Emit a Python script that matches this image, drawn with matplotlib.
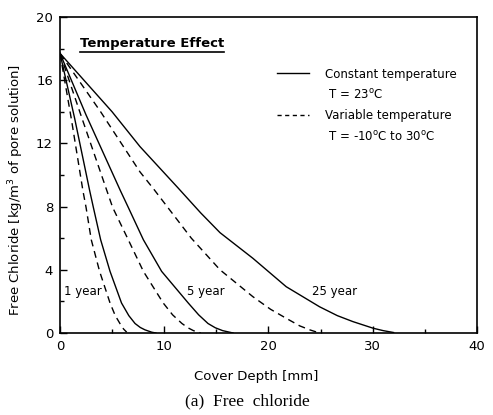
import matplotlib
matplotlib.use("Agg")
from matplotlib import pyplot as plt
from matplotlib.lines import Line2D
from matplotlib.ticker import MultipleLocator

# (cover depth mm, free chloride kg/m3)
depth_1yr_var = [0, 1.1, 2.2, 2.5, 3.0, 3.8, 4.8, 5.3, 5.75, 6.1, 6.4]
cl_1yr_var = [17.7, 13.5, 9.0, 7.95, 5.9, 3.9, 1.9, 1.1, 0.6, 0.25, 0.05]
depth_1yr_const = [0, 1.4, 2.85, 3.2, 3.9, 4.8, 5.9, 6.6, 7.2, 7.7, 8.15, 8.8, 9.2]
cl_1yr_const = [17.7, 13.6, 9.0, 7.95, 5.9, 3.9, 1.9, 1.1, 0.6, 0.35, 0.2, 0.05, 0.0]
depth_5yr_var = [0, 2.05, 4.5, 5.05, 6.55, 8.0, 9.9, 10.8, 11.7, 12.3, 12.8, 13.5]
cl_5yr_var = [17.7, 13.7, 9.0, 7.95, 5.9, 3.9, 1.9, 1.15, 0.6, 0.32, 0.15, 0.0]
depth_5yr_const = [0, 2.5, 5.8, 6.55, 8.0, 9.75, 12.3, 13.3, 14.2, 14.9, 15.6, 16.6]
cl_5yr_const = [17.7, 13.8, 9.0, 7.95, 5.9, 3.9, 1.9, 1.15, 0.6, 0.33, 0.15, 0.0]
depth_25yr_var = [0, 3.9, 7.67, 9.0, 12.6, 15.35, 18.5, 20.2, 21.7, 23.0, 24.0, 24.9]
cl_25yr_var = [17.7, 14.0, 10.2, 9.1, 6.0, 4.0, 2.3, 1.5, 0.93, 0.45, 0.19, 0.0]
depth_25yr_const = [0, 5.0, 7.67, 11.3, 13.5, 15.35, 18.5, 21.7, 24.9, 26.6, 28.1, 30.05, 31.0, 32.0]
cl_25yr_const = [17.7, 14.0, 11.8, 9.2, 7.6, 6.35, 4.73, 2.93, 1.66, 1.1, 0.72, 0.3, 0.15, 0.03]

age_labels = ["1 year", "5 year", "25 year"]
age_label_x = [2.2, 14.0, 26.3]
age_label_y = [2.65, 2.65, 2.65]

fig = plt.figure(figsize=(4.93, 4.15), dpi=100)
ax = fig.add_axes([0.1217, 0.1976, 0.8458, 0.7614])

dash = (0, (5, 3.5))
lw = 1.0
ax.plot(depth_1yr_var, cl_1yr_var, color="black", lw=lw, linestyle=dash)
ax.plot(depth_1yr_const, cl_1yr_const, color="black", lw=lw)
ax.plot(depth_5yr_var, cl_5yr_var, color="black", lw=lw, linestyle=dash)
ax.plot(depth_5yr_const, cl_5yr_const, color="black", lw=lw)
ax.plot(depth_25yr_var, cl_25yr_var, color="black", lw=lw, linestyle=dash)
ax.plot(depth_25yr_const, cl_25yr_const, color="black", lw=lw)

for lab, lx, ly in zip(age_labels, age_label_x, age_label_y):
    ax.text(lx, ly, lab, fontsize=8.5, ha="center", va="center")

ax.set_xlim(0, 40)
ax.set_ylim(0, 20)
ax.xaxis.set_major_locator(MultipleLocator(10))
ax.xaxis.set_minor_locator(MultipleLocator(5))
ax.yaxis.set_major_locator(MultipleLocator(4))
ax.yaxis.set_minor_locator(MultipleLocator(2))
ax.tick_params(which="both", direction="in", top=False, right=False, labelsize=9.5)
ax.tick_params(which="major", length=5, width=1, pad=5)
ax.tick_params(which="minor", length=3, width=1)
for s in ax.spines.values():
    s.set_linewidth(1.2)

# underlined heading
title = ax.text(1.9, 18.3, "Temperature Effect", fontsize=9.5, fontweight="bold",
                ha="left", va="center")
fig.canvas.draw()
bb = title.get_window_extent().transformed(ax.transAxes.inverted())
ax.plot([bb.x0, bb.x1], [bb.y0 - 0.006, bb.y0 - 0.006], color="black", lw=1.2,
        transform=ax.transAxes, clip_on=False)

handles = [Line2D([], [], color="black", lw=lw),
           Line2D([], [], color="none"),
           Line2D([], [], color="black", lw=lw, linestyle=(0, (3, 2.5))),
           Line2D([], [], color="none")]
labels = ["Constant temperature", r" T = 23$^{\mathrm{o}}$C",
          "Variable temperature", r" T = -10$^{\mathrm{o}}$C to 30$^{\mathrm{o}}$C"]
ax.legend(handles, labels, loc="upper left", bbox_to_anchor=(0.51, 0.855), frameon=False,
          fontsize=8.5, handlelength=2.7, handletextpad=1.3, labelspacing=0.62,
          borderaxespad=0)

ax.set_ylabel(r"Free Chloride [kg/m$^3$ of pore solution]", fontsize=9.5)
ax.yaxis.set_label_coords(-0.082, 0.4525)
fig.text(256 / 493, 0.0916, "Cover Depth [mm]", fontsize=9.5, ha="center", va="center")
fig.text(247 / 493, 0.032, "(a)  Free  chloride", fontsize=12.5, ha="center", va="center",
         family="Liberation Serif")

fig.savefig("out.png", dpi=100)
